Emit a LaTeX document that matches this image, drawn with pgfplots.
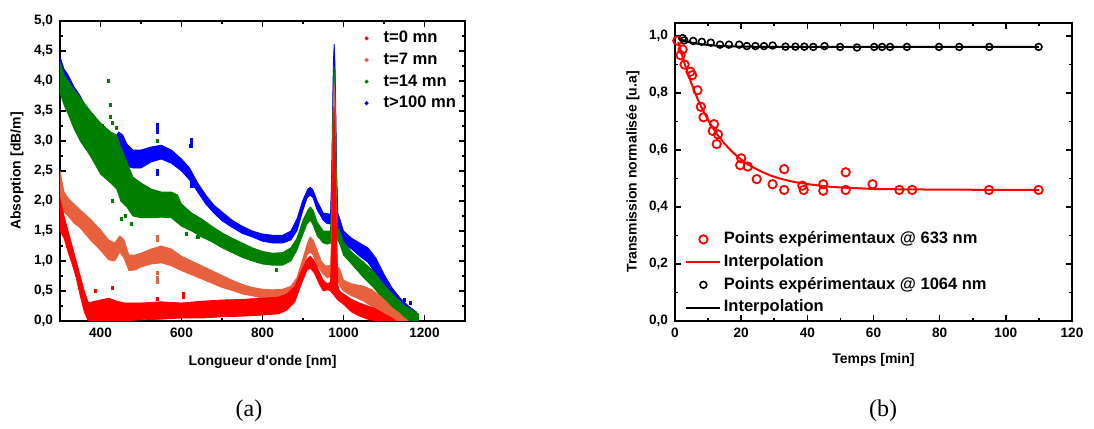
\documentclass[border=0pt]{standalone}
\usepackage{fontspec}
\setmainfont{Liberation Sans}
\newfontfamily\capfont{Liberation Serif}
\usepackage{pgfplots}
\pgfplotsset{compat=1.18}
\definecolor{cRed}{RGB}{255,0,0}
\definecolor{cSal}{RGB}{232,97,62}
\definecolor{cGreen}{RGB}{0,128,0}
\definecolor{cBlue}{RGB}{0,0,255}
\pgfplotsset{
  mystyle/.style={
    scale only axis,
    axis line style={line width=0.9pt},
    every tick/.style={black, line width=0.8pt},
    major tick length=2.8pt,
    minor tick length=1.6pt,
    tick align=inside,
    tick label style={font=\fontsize{6.8}{8}\selectfont\bfseries},
    label style={font=\fontsize{7}{8}\selectfont\bfseries},
    /pgf/number format/assume math mode=true,
    yticklabel style={/pgf/number format/.cd, fixed, fixed zerofill, precision=1, use comma},
    xticklabel style={/pgf/number format/.cd, fixed, precision=0, 1000 sep={}},
    legend cell align=left,
  }
}
\begin{document}
\begin{tikzpicture}
\useasboundingbox (0,0) rectangle (547pt,214.5pt);
% ---------------- (a) ----------------
\begin{axis}[mystyle, at={(30pt,54pt)}, anchor=south west,
  width=202.5pt, height=150pt,
  xmin=300, xmax=1300, ymin=0, ymax=5,
  xtick={400,600,800,1000,1200}, minor x tick num=1,
  ytick={0,0.5,1,1.5,2,2.5,3,3.5,4,4.5,5}, minor y tick num=1,
  xlabel={Longueur d\textquotesingle onde [nm]}, ylabel={Absoption [dB/m]},
  xlabel style={at={(axis description cs:0.5,-0.137)}, anchor=center},
  ylabel style={at={(axis description cs:-0.106,0.5)}, anchor=center},
  legend image code/.code={\path (0cm,0cm) (0.45cm,0cm); \draw[mark repeat=2,mark phase=2,#1] plot coordinates {(0cm,0cm) (0.2cm,0cm) (0.4cm,0cm)};},
  legend style={draw=none, fill=none, at={(axis description cs:0.727,0.978)}, anchor=north west,
    font=\fontsize{8.3}{10}\selectfont\bfseries, row sep=0.4pt, inner sep=0pt,
    nodes={text height=6.2pt, text depth=1.8pt, inner sep=1.2pt}},
]
\addlegendimage{only marks, mark=*, mark size=0.8pt, cRed}
\addlegendentry{t=0 mn}
\addlegendimage{only marks, mark=*, mark size=0.8pt, cSal}
\addlegendentry{t=7 mn}
\addlegendimage{only marks, mark=*, mark size=0.8pt, cGreen}
\addlegendentry{t=14 mn}
\addlegendimage{only marks, mark=*, mark size=0.8pt, cBlue}
\addlegendentry{t>100 mn}
% t>100 mn band
\addplot[forget plot, fill=cBlue, draw=cBlue, line width=0.4pt] coordinates {
(300,4.4) (310,4.2) (320,4.1) (335,3.9) (350,3.75) (365,3.55) (380,3.4) (400,3.25) (420,3.15) (435,3.05) (445,3.15) (455,3.1) (465,2.95) (480,2.85) (500,2.85) (525,2.9) (550,2.93) (575,2.85) (600,2.7) (620,2.55) (640,2.3) (660,2.1) (680,1.93) (700,1.82) (725,1.68) (750,1.58) (775,1.5) (800,1.45) (825,1.43) (850,1.43) (870,1.5) (885,1.7) (900,2.02) (912,2.2) (918,2.23) (925,2.18) (935,2.0) (950,1.8) (968,1.78) (971,2.5) (973,3.5) (975,4.3) (977,4.62) (979,4.3) (981,3.5) (983,2.5) (986,1.8) (990,1.72) (1000,1.5) (1020,1.38) (1040,1.3) (1060,1.22) (1080,1.05) (1100,0.78) (1120,0.55) (1140,0.38) (1160,0.25) (1180,0.15)
(1180,0.02) (1160,0.05) (1140,0.18) (1120,0.35) (1100,0.52) (1080,0.78) (1060,0.98) (1040,1.08) (1020,1.2) (1000,1.28) (990,1.45) (986,1.55) (968,1.62) (960,1.62) (950,1.68) (935,1.85) (925,2.05) (918,2.1) (910,2.05) (900,1.85) (885,1.5) (870,1.35) (850,1.3) (825,1.3) (800,1.33) (775,1.4) (750,1.46) (725,1.56) (700,1.67) (680,1.8) (660,1.95) (640,2.15) (620,2.35) (600,2.5) (575,2.63) (550,2.7) (525,2.65) (500,2.55) (480,2.55) (465,2.58) (455,2.8) (445,2.9) (435,2.8) (420,2.85) (400,2.9) (380,3.0) (365,3.15) (350,3.35) (335,3.5) (320,3.75) (310,3.9) (300,4.0)
} -- cycle;
\addplot[forget plot, only marks, mark=square*, mark size=0.6pt, cBlue] coordinates {
(540,3.28) (540,3.22) (540,3.15) (540,2.5) (540,2.45) (625,3.02) (625,2.97) (623,2.92) (624,2.3) (626,2.25) (1150,0.35) (1165,0.3)
};
% t=14 mn band
\addplot[forget plot, fill=cGreen, draw=cGreen, line width=0.4pt] coordinates {
(300,4.3) (310,4.1) (320,4.0) (335,3.85) (350,3.72) (375,3.5) (400,3.3) (425,3.15) (440,3.1) (450,2.9) (465,2.65) (480,2.4) (500,2.3) (525,2.2) (550,2.15) (575,2.15) (590,2.1) (600,1.95) (625,1.8) (650,1.7) (675,1.58) (700,1.47) (725,1.38) (750,1.3) (775,1.22) (800,1.16) (825,1.13) (850,1.14) (870,1.22) (885,1.38) (900,1.68) (912,1.85) (918,1.9) (925,1.85) (935,1.65) (950,1.5) (968,1.5) (971,2.2) (973,3.2) (975,3.95) (977,4.22) (979,3.95) (981,3.2) (983,2.2) (986,1.55) (990,1.52) (1000,1.32) (1020,1.15) (1050,0.98) (1075,0.82) (1100,0.6) (1125,0.42) (1150,0.26) (1170,0.18) (1185,0.12)
(1185,0.0) (1150,0.02) (1125,0.18) (1100,0.35) (1075,0.55) (1050,0.72) (1020,0.95) (1000,1.1) (990,1.3) (986,1.35) (968,1.3) (960,1.28) (950,1.3) (935,1.42) (925,1.6) (918,1.68) (910,1.62) (900,1.45) (885,1.18) (870,1.0) (850,0.93) (825,0.93) (800,0.95) (775,1.0) (750,1.06) (725,1.14) (700,1.22) (675,1.32) (650,1.4) (625,1.5) (600,1.58) (575,1.72) (550,1.73) (525,1.72) (500,1.72) (480,1.75) (465,1.9) (450,2.0) (440,2.2) (425,2.3) (400,2.45) (375,2.75) (350,3.0) (335,3.2) (320,3.45) (310,3.6) (300,3.8)
} -- cycle;
\addplot[forget plot, only marks, mark=square*, mark size=0.6pt, cGreen] coordinates {
(420,4.0) (425,3.6) (424,3.4) (440,3.22) (395,3.22) (405,3.25) (430,3.3) (452,1.7) (462,1.75) (476,1.62) (480,1.85) (430,2.0) (540,3.0) (612,1.45) (640,1.4) (835,0.85) (1160,0.12)
};
% t=7 mn band
\addplot[forget plot, fill=cSal, draw=cSal, line width=0.4pt] coordinates {
(300,2.5) (310,2.15) (320,2.05) (335,1.95) (350,1.85) (375,1.7) (400,1.52) (420,1.35) (435,1.3) (448,1.42) (458,1.35) (470,1.1) (485,1.1) (500,1.13) (525,1.2) (550,1.25) (575,1.2) (600,1.08) (625,1.0) (650,0.92) (675,0.84) (700,0.76) (725,0.68) (750,0.61) (775,0.56) (800,0.53) (825,0.52) (850,0.53) (870,0.58) (885,0.72) (900,1.05) (912,1.32) (918,1.4) (925,1.35) (935,1.18) (945,1.0) (955,0.92) (968,0.92) (971,1.5) (973,2.6) (975,3.6) (977,3.95) (979,3.6) (981,2.6) (983,1.5) (986,0.9) (990,0.88) (1000,0.68) (1020,0.62) (1050,0.58) (1070,0.52) (1090,0.42) (1100,0.36) (1120,0.22) (1140,0.12) (1150,0.05) (1160,0.0)
(1160,0) (1120,0) (1100,0.08) (1080,0.2) (1050,0.33) (1020,0.42) (1000,0.5) (990,0.6) (986,0.68) (968,0.74) (960,0.72) (950,0.78) (935,0.92) (925,1.1) (918,1.15) (910,1.1) (900,0.85) (885,0.55) (870,0.44) (850,0.38) (825,0.37) (800,0.38) (775,0.42) (750,0.45) (725,0.51) (700,0.56) (675,0.63) (650,0.7) (625,0.77) (600,0.84) (575,0.92) (550,0.97) (525,0.95) (500,0.9) (485,0.85) (470,0.84) (458,1.05) (448,1.15) (435,1.0) (420,1.02) (400,1.18) (375,1.35) (350,1.55) (335,1.63) (320,1.75) (310,1.82) (300,1.85)
} -- cycle;
\addplot[forget plot, only marks, mark=square*, mark size=0.6pt, cSal] coordinates {
(540,0.65) (540,0.72) (540,0.8) (540,1.4) (541,1.35)
};
% t=0 mn band
\addplot[forget plot, fill=cRed, draw=cRed, line width=0.4pt] coordinates {
(300,2.05) (310,1.75) (320,1.5) (330,1.25) (340,1.0) (350,0.75) (360,0.5) (370,0.3) (380,0.32) (400,0.35) (420,0.38) (440,0.33) (460,0.3) (500,0.3) (550,0.32) (600,0.3) (650,0.33) (700,0.35) (750,0.36) (800,0.38) (840,0.4) (860,0.45) (880,0.58) (895,0.82) (910,1.03) (918,1.08) (928,1.0) (940,0.82) (950,0.68) (960,0.62) (968,0.65) (971,1.2) (973,2.2) (975,3.2) (977,3.56) (979,3.2) (981,2.3) (983,1.2) (986,0.6) (990,0.5) (1000,0.45) (1020,0.36) (1040,0.3) (1060,0.25) (1080,0.2) (1100,0.12) (1120,0.05) (1130,0.0)
(1130,0) (1080,0) (1060,0.03) (1040,0.08) (1020,0.15) (1000,0.28) (990,0.33) (986,0.35) (968,0.5) (960,0.52) (950,0.5) (940,0.62) (928,0.8) (918,0.88) (910,0.85) (895,0.6) (880,0.32) (860,0.18) (840,0.12) (800,0.1) (750,0.08) (700,0.07) (650,0.05) (600,0.05) (550,0.03) (500,0.02) (450,0.0) (370,0) (360,0.15) (350,0.42) (340,0.72) (330,0.95) (320,1.15) (310,1.38) (300,1.5)
} -- cycle;
\addplot[forget plot, only marks, mark=square*, mark size=0.6pt, cRed] coordinates {
(430,0.55) (388,0.5) (605,0.45) (540,0.37) (605,0.4)
};
\end{axis}
% ---------------- (b) ----------------
\begin{axis}[mystyle, at={(337.5pt,54pt)}, anchor=south west,
  width=198.5pt, height=149pt,
  xmin=0, xmax=120, ymin=0, ymax=1.046,
  xtick={0,20,40,60,80,100,120}, minor x tick num=1,
  ytick={0,0.2,0.4,0.6,0.8,1.0}, minor y tick num=1,
  xlabel={Temps [min]}, ylabel={Transmission normalisée [u.a]},
  xlabel style={at={(axis description cs:0.5,-0.131)}, anchor=center},
  ylabel style={at={(axis description cs:-0.106,0.5)}, anchor=center},
  legend style={draw=none, fill=none, at={(axis description cs:0.025,0.31)}, anchor=north west,
    font=\fontsize{8.25}{10}\selectfont\bfseries, row sep=0.95pt, inner sep=0pt,
    nodes={text height=6.2pt, text depth=1.8pt, inner sep=1.2pt}},
]
\addplot[only marks, mark=o, mark size=2.1pt, cRed, mark options={line width=0.9pt}] coordinates {
(0.7,0.984) (1.7,0.933) (2.3,0.953) (2.9,0.900) (4.7,0.875) (5.2,0.863) (6.8,0.810) (7.8,0.752) (8.6,0.715) (11.4,0.667) (11.8,0.691) (13.0,0.655) (12.6,0.621) (19.7,0.547) (20.0,0.571) (22.0,0.542) (24.7,0.498) (29.5,0.480) (33.0,0.533) (33.0,0.460) (38.5,0.475) (38.9,0.460) (44.8,0.480) (44.8,0.457) (51.6,0.522) (51.6,0.460) (59.7,0.480) (67.8,0.460) (71.7,0.460) (94.9,0.460) (109.9,0.460)
};
\addlegendentry{Points expérimentaux @ 633 nm}
\addplot[no marks, cRed, line width=1pt] coordinates {
(1,0.980) (2,0.938) (3,0.900) (4,0.865) (5,0.833) (6,0.803) (7,0.775) (8,0.750) (9,0.727) (10,0.706) (11,0.686) (13,0.651) (15,0.622) (17,0.597) (19,0.576) (21,0.558) (23,0.543) (26,0.525) (29,0.510) (32,0.499) (36,0.488) (41,0.479) (46,0.472) (51,0.468) (61,0.463) (71,0.462) (81,0.461) (110,0.460)
};
\addlegendentry{Interpolation}
\addplot[only marks, mark=o, mark size=1.7pt, black, mark options={line width=0.8pt}] coordinates {
(2.3,0.993) (2.8,0.985) (5.5,0.983) (8.1,0.980) (10.8,0.977) (13.6,0.970) (16.3,0.970) (19.4,0.970) (21.7,0.965) (24.3,0.965) (26.9,0.965) (29.5,0.967) (33.4,0.963) (36.4,0.963) (39.1,0.963) (41.8,0.962) (45.2,0.965) (49.9,0.962) (55.0,0.960) (60.2,0.962) (62.6,0.962) (65.0,0.962) (70.1,0.962) (79.8,0.962) (85.9,0.962) (95.0,0.962) (109.9,0.962)
};
\addlegendentry{Points expérimentaux @ 1064 nm}
\addplot[no marks, black, line width=1pt] coordinates {
(1,0.992) (2,0.987) (3,0.983) (5,0.977) (7,0.973) (10,0.969) (14,0.965) (20,0.963) (30,0.962) (110,0.962)
};
\addlegendentry{Interpolation}
\end{axis}
\node[font=\capfont\fontsize{12}{14}\selectfont] at (124.5pt,9pt) {(a)};
\node[font=\capfont\fontsize{12}{14}\selectfont] at (441.5pt,9pt) {(b)};
\end{tikzpicture}
\end{document}
